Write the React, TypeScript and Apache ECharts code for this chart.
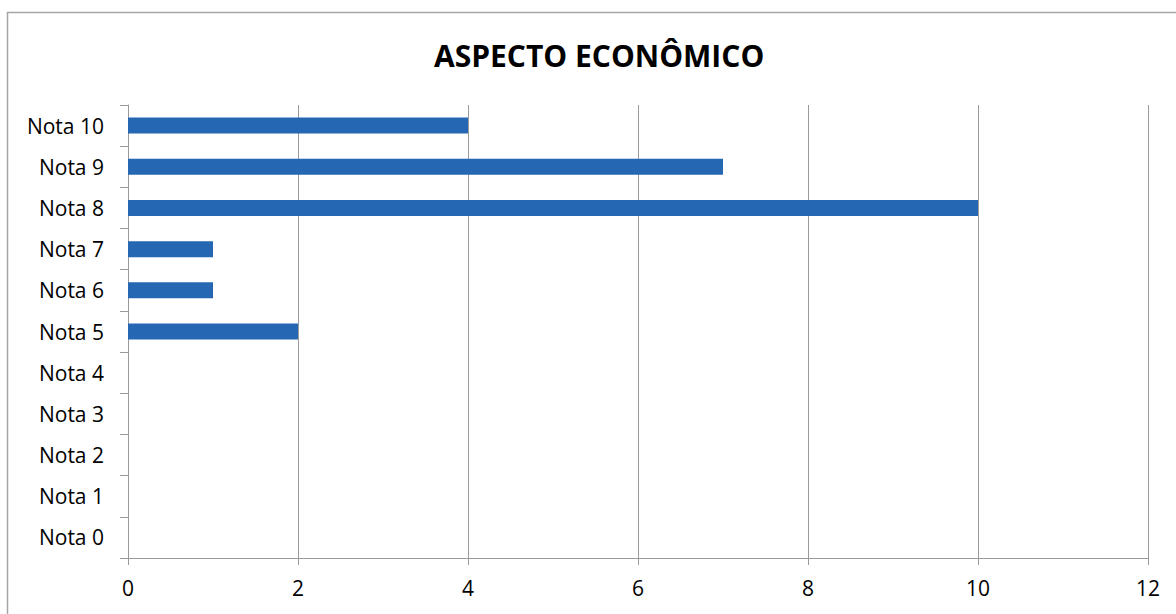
import React, { useEffect, useRef } from "react";
import * as echarts from "echarts";

const categories = ["Nota 0", "Nota 1", "Nota 2", "Nota 3", "Nota 4", "Nota 5", "Nota 6", "Nota 7", "Nota 8", "Nota 9", "Nota 10"];
const values = [0, 0, 0, 0, 0, 2, 1, 1, 10, 7, 4];
const title = "ASPECTO ECONÔMICO";

export default function App() {
  const ref = useRef<HTMLDivElement>(null);
  useEffect(() => {
    const chart = echarts.init(ref.current!, null, { renderer: "svg" });
    chart.setOption({
      animation: false,
      backgroundColor: "#ffffff",
      title: {
        text: title,
        left: 429,
        top: 35,
        textStyle: { fontFamily: "Open Sans", fontWeight: "bold", fontSize: 30, color: "#000" },
      },
      graphic: [
        {
          type: "rect",
          shape: { x: 7.5, y: 12.5, width: 1200, height: 700 },
          style: { fill: "none", stroke: "#a6a6a6", lineWidth: 1.5 },
          silent: true,
        },
      ],
      grid: { left: 128, right: 28, top: 105, bottom: 56, containLabel: false },
      xAxis: {
        type: "value",
        min: 0,
        max: 12,
        interval: 2,
        axisLine: { show: true, lineStyle: { color: "#9a9a9a", width: 1 } },
        axisTick: { show: true, length: 7, lineStyle: { color: "#9a9a9a" } },
        splitLine: { show: true, lineStyle: { color: "#9a9a9a", width: 1 } },
        axisLabel: { color: "#000", fontFamily: "Open Sans", fontSize: 21, margin: 19 },
      },
      yAxis: {
        type: "category",
        data: categories,
        axisLine: { show: true, lineStyle: { color: "#9a9a9a", width: 1 } },
        axisTick: { show: true, length: 8, lineStyle: { color: "#9a9a9a" } },
        axisLabel: { color: "#000", fontFamily: "Open Sans", fontSize: 21, margin: 24 },
      },
      series: [
        {
          type: "bar",
          data: values,
          barWidth: 16,
          itemStyle: { color: "#2567b3" },
        },
      ],
    });
    return () => chart.dispose();
  }, []);
  return <div ref={ref} style={{ position: "fixed", left: 0, top: 0, width: 1176, height: 614 }} />;
}
